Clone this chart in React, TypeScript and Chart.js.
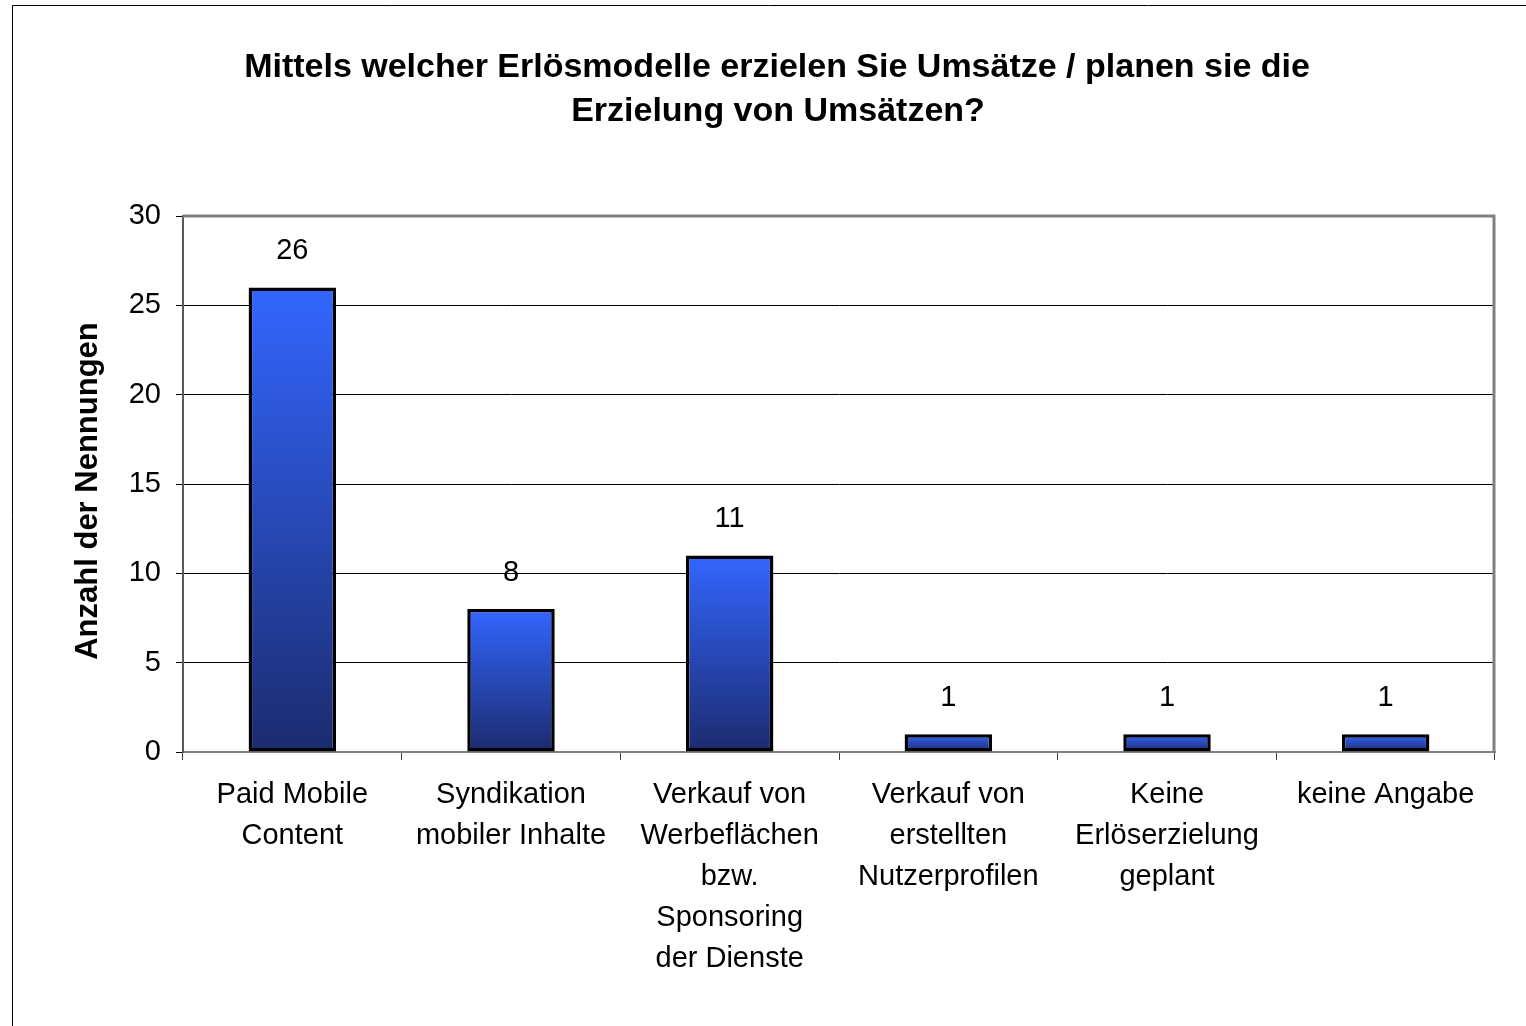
import React, { useEffect, useRef } from "react";
import { Chart, registerables } from "chart.js";

Chart.register(...registerables);

const titleLines = [
  "Mittels welcher Erlösmodelle erzielen Sie Umsätze / planen sie die",
  "Erzielung von Umsätzen?",
];
const yAxisTitle = "Anzahl der Nennungen";
const categories: string[][] = [
  ["Paid Mobile", "Content"],
  ["Syndikation", "mobiler Inhalte"],
  ["Verkauf von", "Werbeflächen", "bzw.", "Sponsoring", "der Dienste"],
  ["Verkauf von", "erstellten", "Nutzerprofilen"],
  ["Keine", "Erlöserzielung", "geplant"],
  ["keine Angabe"],
];
const values = [26, 8, 11, 1, 1, 1];
const yMin = 0;
const yMax = 30;
const yStep = 5;

const FONT = '"Liberation Sans", Arial, Helvetica, sans-serif';

const framePlugin = {
  id: "framePlugin",
  afterDraw(chart: any) {
    const { ctx, chartArea } = chart;
    ctx.save();
    // outer frame (left/top edges visible)
    ctx.strokeStyle = "#000";
    ctx.lineWidth = 1;
    ctx.beginPath();
    ctx.moveTo(12.5, 3000);
    ctx.lineTo(12.5, 5.5);
    ctx.lineTo(3000, 5.5);
    ctx.stroke();
    // plot area top & right border
    ctx.strokeStyle = "#808080";
    ctx.lineWidth = 3;
    ctx.beginPath();
    ctx.moveTo(chartArea.left, chartArea.top);
    ctx.lineTo(chartArea.right - 1, chartArea.top);
    ctx.lineTo(chartArea.right - 1, chartArea.bottom);
    ctx.stroke();
    // title
    ctx.fillStyle = "#000";
    ctx.font = `bold 34px ${FONT}`;
    ctx.textAlign = "center";
    ctx.textBaseline = "alphabetic";
    ctx.fillText(titleLines[0], 777, 77);
    ctx.fillText(titleLines[1], 778, 121);
    // y axis title
    ctx.save();
    ctx.translate(88, 491);
    ctx.rotate(-Math.PI / 2);
    ctx.font = `bold 31px ${FONT}`;
    ctx.textBaseline = "middle";
    ctx.fillText(yAxisTitle, 0, 0);
    ctx.restore();
    // value labels
    const meta = chart.getDatasetMeta(0);
    ctx.font = `29px ${FONT}`;
    ctx.textBaseline = "middle";
    ctx.textAlign = "center";
    meta.data.forEach((el: any, i: number) => {
      ctx.fillText(String(values[i]), el.x, el.y - 36);
    });
    ctx.restore();
  },
};

export default function App() {
  const ref = useRef<HTMLCanvasElement>(null);
  useEffect(() => {
    const chart = new Chart(ref.current as HTMLCanvasElement, {
      type: "bar",
      data: {
        labels: categories,
        datasets: [
          {
            data: values,
            backgroundColor: (c: any) => {
              const ch = c.chart;
              if (!ch.chartArea || c.type !== "data" || !c.parsed) return "#3366ff";
              const y = ch.scales.y;
              const top = y.getPixelForValue(c.parsed.y);
              const bot = y.getPixelForValue(0);
              const g = ch.ctx.createLinearGradient(0, top, 0, bot);
              g.addColorStop(0, "#3366ff");
              g.addColorStop(1, "#1b2b6e");
              return g;
            },
            borderColor: "#000",
            borderWidth: 3.5,
            borderSkipped: false,
            barPercentage: 0.4,
            categoryPercentage: 1,
          },
        ],
      },
      options: {
        responsive: false,
        animation: false,
        devicePixelRatio: 1,
        layout: { padding: { top: 216, right: 31, left: 0, bottom: 0 } },
        plugins: {
          legend: { display: false },
          title: { display: false },
          tooltip: { enabled: false },
        },
        scales: {
          x: {
            grid: {
              offset: true,
              drawOnChartArea: false,
              drawTicks: true,
              tickLength: 8,
              tickColor: "#404040",
              color: "#404040",
            },
            border: { display: true, color: "#808080", width: 2 },
            ticks: {
              color: "#000",
              font: { family: FONT, size: 29, lineHeight: 1.41 },
              padding: 15,
              maxRotation: 0,
              autoSkip: false,
            },
            afterFit: (s: any) => {
              s.height = 274;
            },
          },
          y: {
            min: yMin,
            max: yMax,
            ticks: {
              stepSize: yStep,
              color: "#000",
              font: { family: FONT, size: 29 },
              padding: 15,
            },
            grid: {
              color: (c: any) =>
                c.tick && (c.tick.value === yMax || c.tick.value === yMin)
                  ? "rgba(0,0,0,0)"
                  : "#000",
              lineWidth: 1,
              tickLength: 7,
              tickColor: "#000",
            },
            border: { display: true, color: "#595959", width: 2 },
            title: { display: false },
            afterFit: (s: any) => {
              s.width = 183;
            },
          },
        },
      },
      plugins: [framePlugin],
    } as any);
    return () => chart.destroy();
  }, []);
  return (
    <canvas
      ref={ref}
      width={1526}
      height={1026}
      style={{
        position: "fixed",
        left: 0,
        top: 0,
        width: "1526px",
        height: "1026px",
        background: "#fff",
      }}
    />
  );
}
